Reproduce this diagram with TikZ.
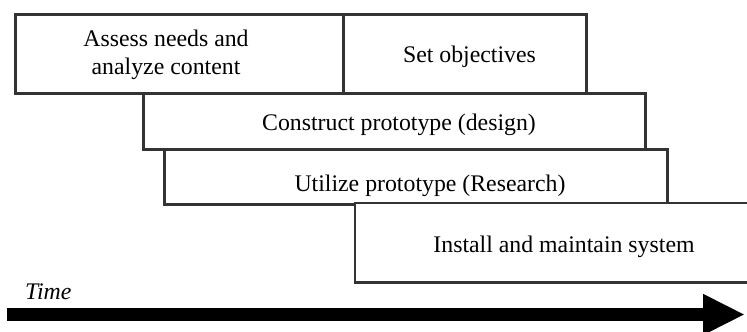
\documentclass[tikz,border=0pt]{standalone}
\usepackage{fontspec}
\setmainfont{Liberation Serif}
\usetikzlibrary{arrows.meta}
\begin{document}
\begin{tikzpicture}[x=1pt,y=-1pt,
  phase/.style={draw=black!80, line width=2.6pt, fill=white, inner sep=0pt, anchor=north west},
  lbl/.style={font=\fontsize{23.8}{28}\selectfont, inner sep=0pt, anchor=base},
]
\useasboundingbox (0,0) rectangle (747,332);
\node[phase, minimum width=502pt, minimum height=56pt] (construct) at (142,92) {};
\node[phase, minimum width=503pt, minimum height=55pt] (utilize) at (163,148) {};
\node[phase, draw=none, minimum width=392pt, minimum height=77pt] (install) at (355,203) {};
\draw[draw=black!80, line width=2.6pt] (install.north east) -- (install.north west) -- (install.south west) -- (install.south east);
\node[phase, minimum width=328pt, minimum height=79pt] (assess) at (14,13) {};
\node[phase, minimum width=243pt, minimum height=79pt] (setobj) at (342,13) {};

\node[lbl] (l1a) at (166,46) {Assess needs and};
\node[lbl] (l1b) at (166,74) {analyze content};
\node[lbl] (l2) at (469.5,62) {Set objectives};
\node[lbl] (l3) at (399,130) {Construct prototype (design)};
\node[lbl] (l4) at (430,191) {Utilize prototype (Research)};
\node[lbl] (l5) at (564,252) {Install and maintain system};
\node[lbl, font=\fontsize{23.8}{28}\selectfont\itshape, anchor=base west] (time) at (25,299) {Time};

\coordinate (tstart) at (7,314.5);
\coordinate (tend) at (745,314.5);
\draw[line width=13pt, -{Triangle[length=42pt,width=38pt]}] (tstart) -- (tend);
\end{tikzpicture}
\end{document}
